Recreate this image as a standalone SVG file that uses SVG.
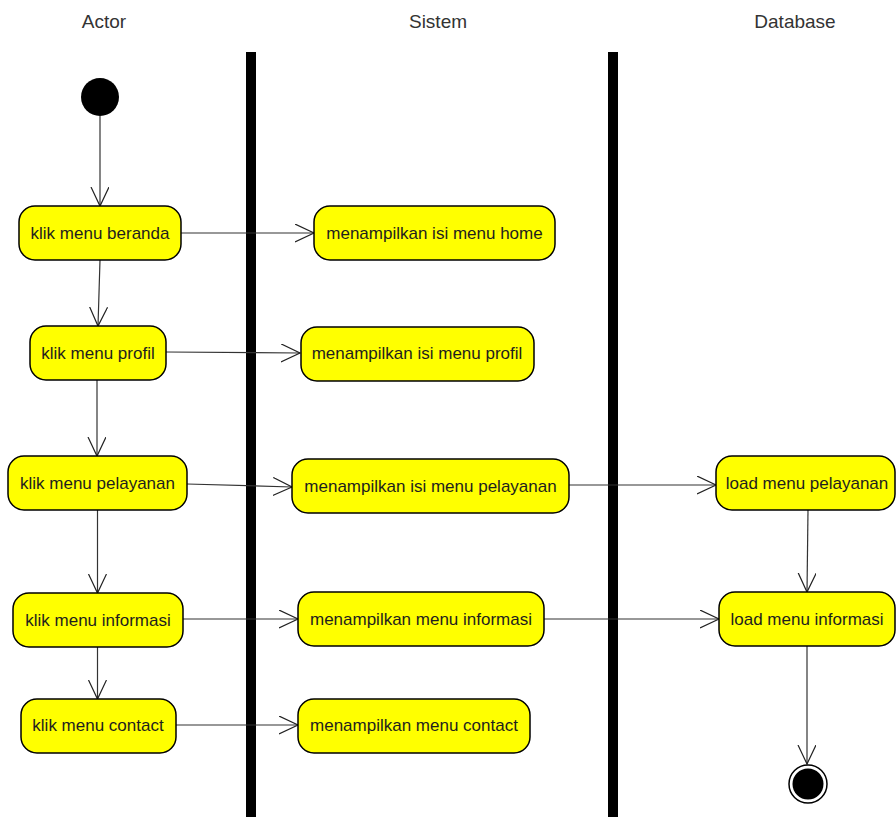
<svg xmlns="http://www.w3.org/2000/svg" width="896" height="817" viewBox="0 0 896 817">
  <defs>
    <style>
      .lane-title { font-family: "Liberation Sans", Arial, sans-serif; font-size: 19px; fill: #333; text-anchor: middle; }
      .lane-bar { fill: #000; }
      .action rect { fill: #ffff00; stroke: #000; stroke-width: 1.5; }
      .action text { font-family: "Liberation Sans", Arial, sans-serif; font-size: 17px; fill: #1e1e1e; text-anchor: middle; }
      .flow { fill: none; stroke: #333; stroke-width: 1.2; marker-end: url(#open-arrow); }
    </style>
    <marker id="open-arrow" markerUnits="userSpaceOnUse" markerWidth="22" markerHeight="22" refX="19" refY="9" orient="auto">
      <path d="M0,0 L19,9 L0,18" fill="none" stroke="#222" stroke-width="1.2"/>
    </marker>
  </defs>

  <rect width="896" height="817" fill="#fff"/>

  <!-- swimlane headers and separators -->
  <g id="lanes">
    <text class="lane-title" x="104" y="28">Actor</text>
    <text class="lane-title" x="438" y="28">Sistem</text>
    <text class="lane-title" x="795" y="28">Database</text>
    <rect class="lane-bar" x="246" y="52" width="10" height="765"/>
    <rect class="lane-bar" x="608" y="52" width="10" height="765"/>
  </g>

  <!-- control flows -->
  <g id="connectors">
    <path class="flow" d="M100,116 L100,206"/>
    <path class="flow" d="M100,260 L98,326"/>
    <path class="flow" d="M97,380 L97,456"/>
    <path class="flow" d="M97.5,510 L97.5,593"/>
    <path class="flow" d="M97.5,647 L97.5,699"/>

    <path class="flow" d="M181,233 L314,233"/>
    <path class="flow" d="M166,352 L300,353"/>
    <path class="flow" d="M187,484 L292,487"/>
    <path class="flow" d="M183,619 L298,619"/>
    <path class="flow" d="M176,725 L298,725"/>

    <path class="flow" d="M568,485 L716,485"/>
    <path class="flow" d="M544,619 L719,619"/>

    <path class="flow" d="M808,510 L807,592"/>
    <path class="flow" d="M807,646 L807,764"/>
  </g>

  <!-- initial node -->
  <g id="start">
    <circle cx="100" cy="97" r="19" fill="#000"/>
  </g>

  <!-- Actor lane -->
  <g id="klik-beranda" class="action">
    <rect x="19" y="206" width="162" height="54" rx="16"/>
    <text x="100" y="239">klik menu beranda</text>
  </g>
  <g id="klik-profil" class="action">
    <rect x="30" y="326" width="136" height="54" rx="16"/>
    <text x="98" y="359">klik menu profil</text>
  </g>
  <g id="klik-pelayanan" class="action">
    <rect x="8" y="456" width="179" height="54" rx="16"/>
    <text x="97.5" y="489">klik menu pelayanan</text>
  </g>
  <g id="klik-informasi" class="action">
    <rect x="13" y="593" width="170" height="54" rx="16"/>
    <text x="98" y="626">klik menu informasi</text>
  </g>
  <g id="klik-contact" class="action">
    <rect x="21" y="699" width="155" height="54" rx="16"/>
    <text x="98" y="731">klik menu contact</text>
  </g>

  <!-- Sistem lane -->
  <g id="tampil-home" class="action">
    <rect x="314" y="206" width="241" height="54" rx="16"/>
    <text x="434.5" y="239">menampilkan isi menu home</text>
  </g>
  <g id="tampil-profil" class="action">
    <rect x="301" y="327" width="233" height="54" rx="16"/>
    <text x="417" y="359">menampilkan isi menu profil</text>
  </g>
  <g id="tampil-pelayanan" class="action">
    <rect x="292" y="459" width="277" height="54" rx="16"/>
    <text x="430.5" y="492">menampilkan isi menu pelayanan</text>
  </g>
  <g id="tampil-informasi" class="action">
    <rect x="298" y="592" width="246" height="54" rx="16"/>
    <text x="421" y="625">menampilkan menu informasi</text>
  </g>
  <g id="tampil-contact" class="action">
    <rect x="298" y="699" width="232" height="54" rx="16"/>
    <text x="414" y="731">menampilkan menu contact</text>
  </g>

  <!-- Database lane -->
  <g id="load-pelayanan" class="action">
    <rect x="716" y="456" width="179" height="54" rx="16"/>
    <text x="807" y="489">load menu pelayanan</text>
  </g>
  <g id="load-informasi" class="action">
    <rect x="719" y="592" width="176" height="54" rx="16"/>
    <text x="807" y="625">load menu informasi</text>
  </g>

  <!-- final node -->
  <g id="end">
    <circle cx="808" cy="784" r="19" fill="#fff" stroke="#000" stroke-width="1.5"/>
    <circle cx="808" cy="784" r="15.5" fill="#000"/>
  </g>
</svg>
